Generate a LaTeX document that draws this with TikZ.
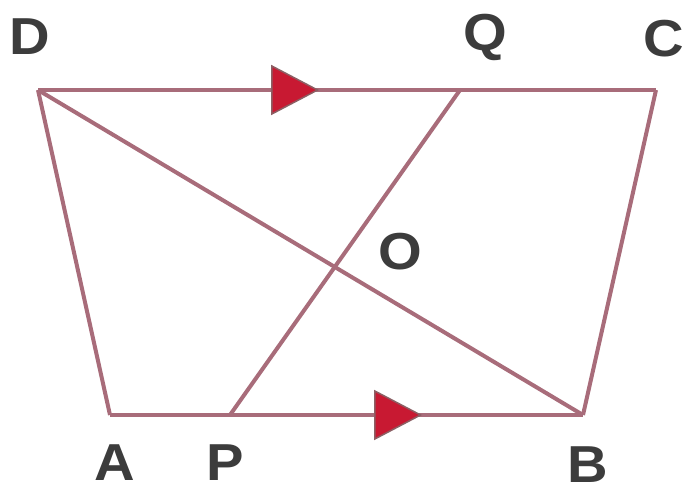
\documentclass[tikz,border=0pt]{standalone}
\usepackage{fontspec}
\setsansfont{Liberation Sans}
\usetikzlibrary{arrows.meta,decorations.markings}
\definecolor{edgecol}{RGB}{168,108,122}
\definecolor{tipfill}{RGB}{200,25,50}
\definecolor{tipline}{RGB}{140,95,100}
\definecolor{labcol}{RGB}{60,60,60}
\tikzset{
  edge/.style={draw=edgecol,line width=4pt,line join=miter},
  lab/.style={font=\sffamily\bfseries\fontsize{52}{52}\selectfont,text=labcol,inner sep=0pt,xscale=1.08},
  bigtip/.style={decoration={markings,mark=at position #1 with {\arrow{Triangle[length=48pt,width=50pt,line width=1.5pt,fill=tipfill,color=tipline]}}},postaction={decorate}}
}
\begin{document}
\begin{tikzpicture}[x=1pt,y=-1pt]
\useasboundingbox (0,0) rectangle (691,497);
\coordinate (D) at (38,90);
\coordinate (C) at (656,90);
\coordinate (A) at (110,415);
\coordinate (B) at (583,415);
\coordinate (P) at (230,415);
\coordinate (Q) at (460,90);
\coordinate (O) at (333,266);
\draw[edge] (D) -- (A);
\draw[edge] (C) -- (B);
\draw[edge] (D) -- (B);
\draw[edge] (P) -- (Q);
\draw[edge,bigtip=0.455] (D) -- (C);
\draw[edge,bigtip=0.66] (A) -- (B);
\node[lab] (lD) at (30,37) {D};
\node[lab] (lQ) at (485,37) {Q};
\node[lab] (lC) at (664,39) {C};
\node[lab] (lO) at (400,252) {O};
\node[lab] (lA) at (115,463) {A};
\node[lab] (lP) at (225,463) {P};
\node[lab] (lB) at (588,465) {B};
\end{tikzpicture}
\end{document}
